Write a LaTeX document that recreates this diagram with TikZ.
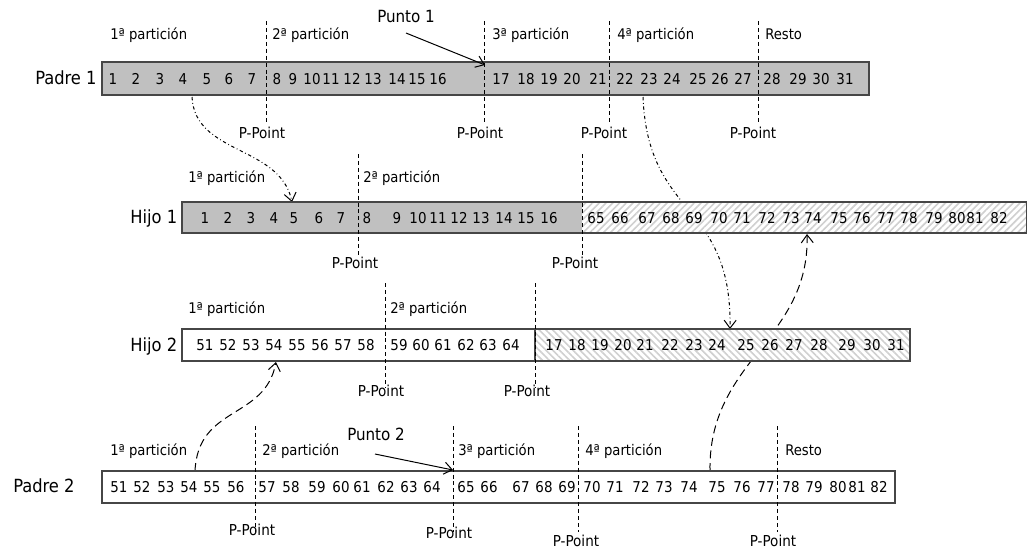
\documentclass[tikz,border=0pt]{standalone}
\usepackage{fontspec}
\setmainfont{DejaVu Sans Condensed}
\usetikzlibrary{patterns.meta,arrows.meta}
\definecolor{cellgray}{RGB}{192,192,192}
\definecolor{edgegray}{RGB}{70,70,70}
\definecolor{hatchgray}{RGB}{208,208,208}
\begin{document}
\begin{tikzpicture}[x=0.75pt,y=-0.75pt,
  num/.style={font=\fontsize{11.2}{14}\selectfont,inner sep=0pt,anchor=base},
  rowlab/.style={font=\fontsize{13.6}{16}\selectfont,inner sep=0pt,anchor=base west},
  part/.style={font=\fontsize{11}{13}\selectfont,inner sep=0pt,anchor=base west},
  ppoint/.style={font=\fontsize{11.3}{13}\selectfont,inner sep=0pt,anchor=base},
  punto/.style={font=\fontsize{12.6}{15}\selectfont,inner sep=0pt,anchor=base west},
  bar/.style={draw=edgegray,line width=0.8pt},
  cut/.style={dash pattern=on 3pt off 2.2pt,line width=0.75pt},
  tipV/.style={-{Straight Barb[length=6pt,width=9pt]}},
  dashdot/.style={dash pattern=on 2.5pt off 2pt on 0.6pt off 2pt,line width=0.75pt,tipV},
  longdash/.style={dash pattern=on 6pt off 3.5pt,line width=0.75pt,tipV},
  pointer/.style={line width=0.75pt,tipV},
  hatchNE/.style={pattern={Lines[angle=45,distance=3.6pt,line width=1.2pt]},pattern color=hatchgray},
  hatchNW/.style={pattern={Lines[angle=-45,distance=3.6pt,line width=1.2pt]},pattern color=hatchgray},
]
\useasboundingbox (0,0) rectangle (1027,551);
\fill[white] (0,0) rectangle (1027,551);

% connector end points
\coordinate (c1s) at (192,97);  \coordinate (c1e) at (292,202);
\coordinate (c2s) at (643,97);  \coordinate (c2e) at (730,329);
\coordinate (c3s) at (195,471); \coordinate (c3e) at (276,362);
\coordinate (c4s) at (710,471); \coordinate (c4e) at (807,234);

% connectors (drawn first so the bars hide them)
\draw[dashdot] (c1s) .. controls (195,155) and (280,145) .. (c1e);
\draw[dashdot] (c2s) .. controls (648,220) and (732,200) .. (c2e);
\draw[longdash] (c3s) .. controls (198,405) and (265,420) .. (c3e);
\draw[longdash] (c4s) .. controls (708,360) and (810,340) .. (c4e);

% bars
\path[bar,fill=cellgray] (102,62) rectangle (869,95);
\fill[cellgray] (182,202) rectangle (582,233);
\fill[white] (582,202) rectangle (1026.5,233);
\fill[hatchNE] (582,202) rectangle (1026.5,233);
\draw[bar] (182,202) rectangle (1026.5,233);
\fill[white] (182,329) rectangle (910,361);
\fill[hatchNW] (535,329) rectangle (910,361);
\draw[bar] (182,329) rectangle (910,361);
\draw[bar] (535,329) -- (535,361);
\path[bar,fill=white] (102,471) rectangle (895,503);

% row labels
\node[rowlab] (lp1) at (35,84) {Padre 1};
\node[rowlab] (lh1) at (130,223) {Hijo 1};
\node[rowlab] (lh2) at (130,351) {Hijo 2};
\node[rowlab] (lp2) at (13,492) {Padre 2};

% Padre 1 numbers
\foreach \x/\n in {113/1,136/2,160/3,183/4,207/5,229/6,252/7,277/8,293/9,312/10,331/11,352/12,373/13,397/14,417/15,438/16,501/17,526/18,549/19,572/20,598/21,625/22,649/23,672/24,698/25,720/26,743/27,772/28,798/29,821/30,845/31}
  \node[num] (p1-\n) at (\x,84.2) {\n};
% Hijo 1 numbers
\foreach \x/\n in {205/1,228/2,251/3,274/4,294/5,319/6,341/7,367/8,397/9,418/10,438/11,459/12,481/13,504/14,526/15,549/16,596/65,620/66,647/67,671/68,694/69,719/70,742/71,767/72,791/73,813/74,839/75,862/76,886/77,909/78,934/79,957/80,975/81,999/82}
  \node[num] (h1-\n) at (\x,223.3) {\n};
% Hijo 2 numbers
\foreach \x/\n in {205/51,228/52,251/53,274/54,297/55,320/56,343/57,366/58,399/59,421/60,443/61,466/62,488/63,511/64,554/17,577/18,600/19,623/20,645/21,670/22,694/23,717/24,746/25,770/26,794/27,819/28,847/29,872/30,896/31}
  \node[num] (h2-\n) at (\x,350.8) {\n};
% Padre 2 numbers
\foreach \x/\n in {119/51,142/52,166/53,189/54,212/55,236/56,267/57,291/58,317/59,341/60,362/61,386/62,409/63,432/64,466/65,489/66,521/67,544/68,567/69,592/70,615/71,641/72,664/73,689/74,717/75,742/76,766/77,791/78,814/79,838/80,857/81,879/82}
  \node[num] (p2-\n) at (\x,492.8) {\n};

% partition labels
\node[part] (a1) at (110,39) {1ª partición};
\node[part] (a2) at (272,39) {2ª partición};
\node[part] (a3) at (492,39) {3ª partición};
\node[part] (a4) at (617,39) {4ª partición};
\node[part] (a5) at (765,39) {Resto};
\node[part] (b1) at (188,182) {1ª partición};
\node[part] (b2) at (363,182) {2ª partición};
\node[part] (d1) at (188,313) {1ª partición};
\node[part] (d2) at (390,313) {2ª partición};
\node[part] (e1) at (110,455) {1ª partición};
\node[part] (e2) at (262,455) {2ª partición};
\node[part] (e3) at (458,455) {3ª partición};
\node[part] (e4) at (585,455) {4ª partición};
\node[part] (e5) at (785,455) {Resto};

% P-Point labels
\node[ppoint] (pa1) at (262,138) {P-Point};
\node[ppoint] (pa2) at (480,138) {P-Point};
\node[ppoint] (pa3) at (604,138) {P-Point};
\node[ppoint] (pa4) at (753,138) {P-Point};
\node[ppoint] (pb1) at (355,268) {P-Point};
\node[ppoint] (pb2) at (575,268) {P-Point};
\node[ppoint] (pd1) at (381,396) {P-Point};
\node[ppoint] (pd2) at (527,396) {P-Point};
\node[ppoint] (pe1) at (252,535) {P-Point};
\node[ppoint] (pe2) at (449,538) {P-Point};
\node[ppoint] (pe3) at (576,546) {P-Point};
\node[ppoint] (pe4) at (773,546) {P-Point};

% cut lines
\foreach \x in {266,484,609,758} \draw[cut] (\x,21) -- (\x,123);
\foreach \x in {358,582} \draw[cut] (\x,154) -- (\x,257);
\foreach \x in {385,535} \draw[cut] (\x,283) -- (\x,388);
\foreach \x in {255,453,578,777} \draw[cut] (\x,426) -- (\x,532);

% Punto labels and pointers
\node[punto] (pt1) at (377,22) {Punto 1};
\node[punto] (pt2) at (347,440) {Punto 2};
\coordinate (pt1s) at (406,33); \coordinate (pt1e) at (485,65);
\coordinate (pt2s) at (375,454); \coordinate (pt2e) at (453,470);
\draw[pointer] (pt1s) -- (pt1e);
\draw[pointer] (pt2s) -- (pt2e);
\end{tikzpicture}
\end{document}
